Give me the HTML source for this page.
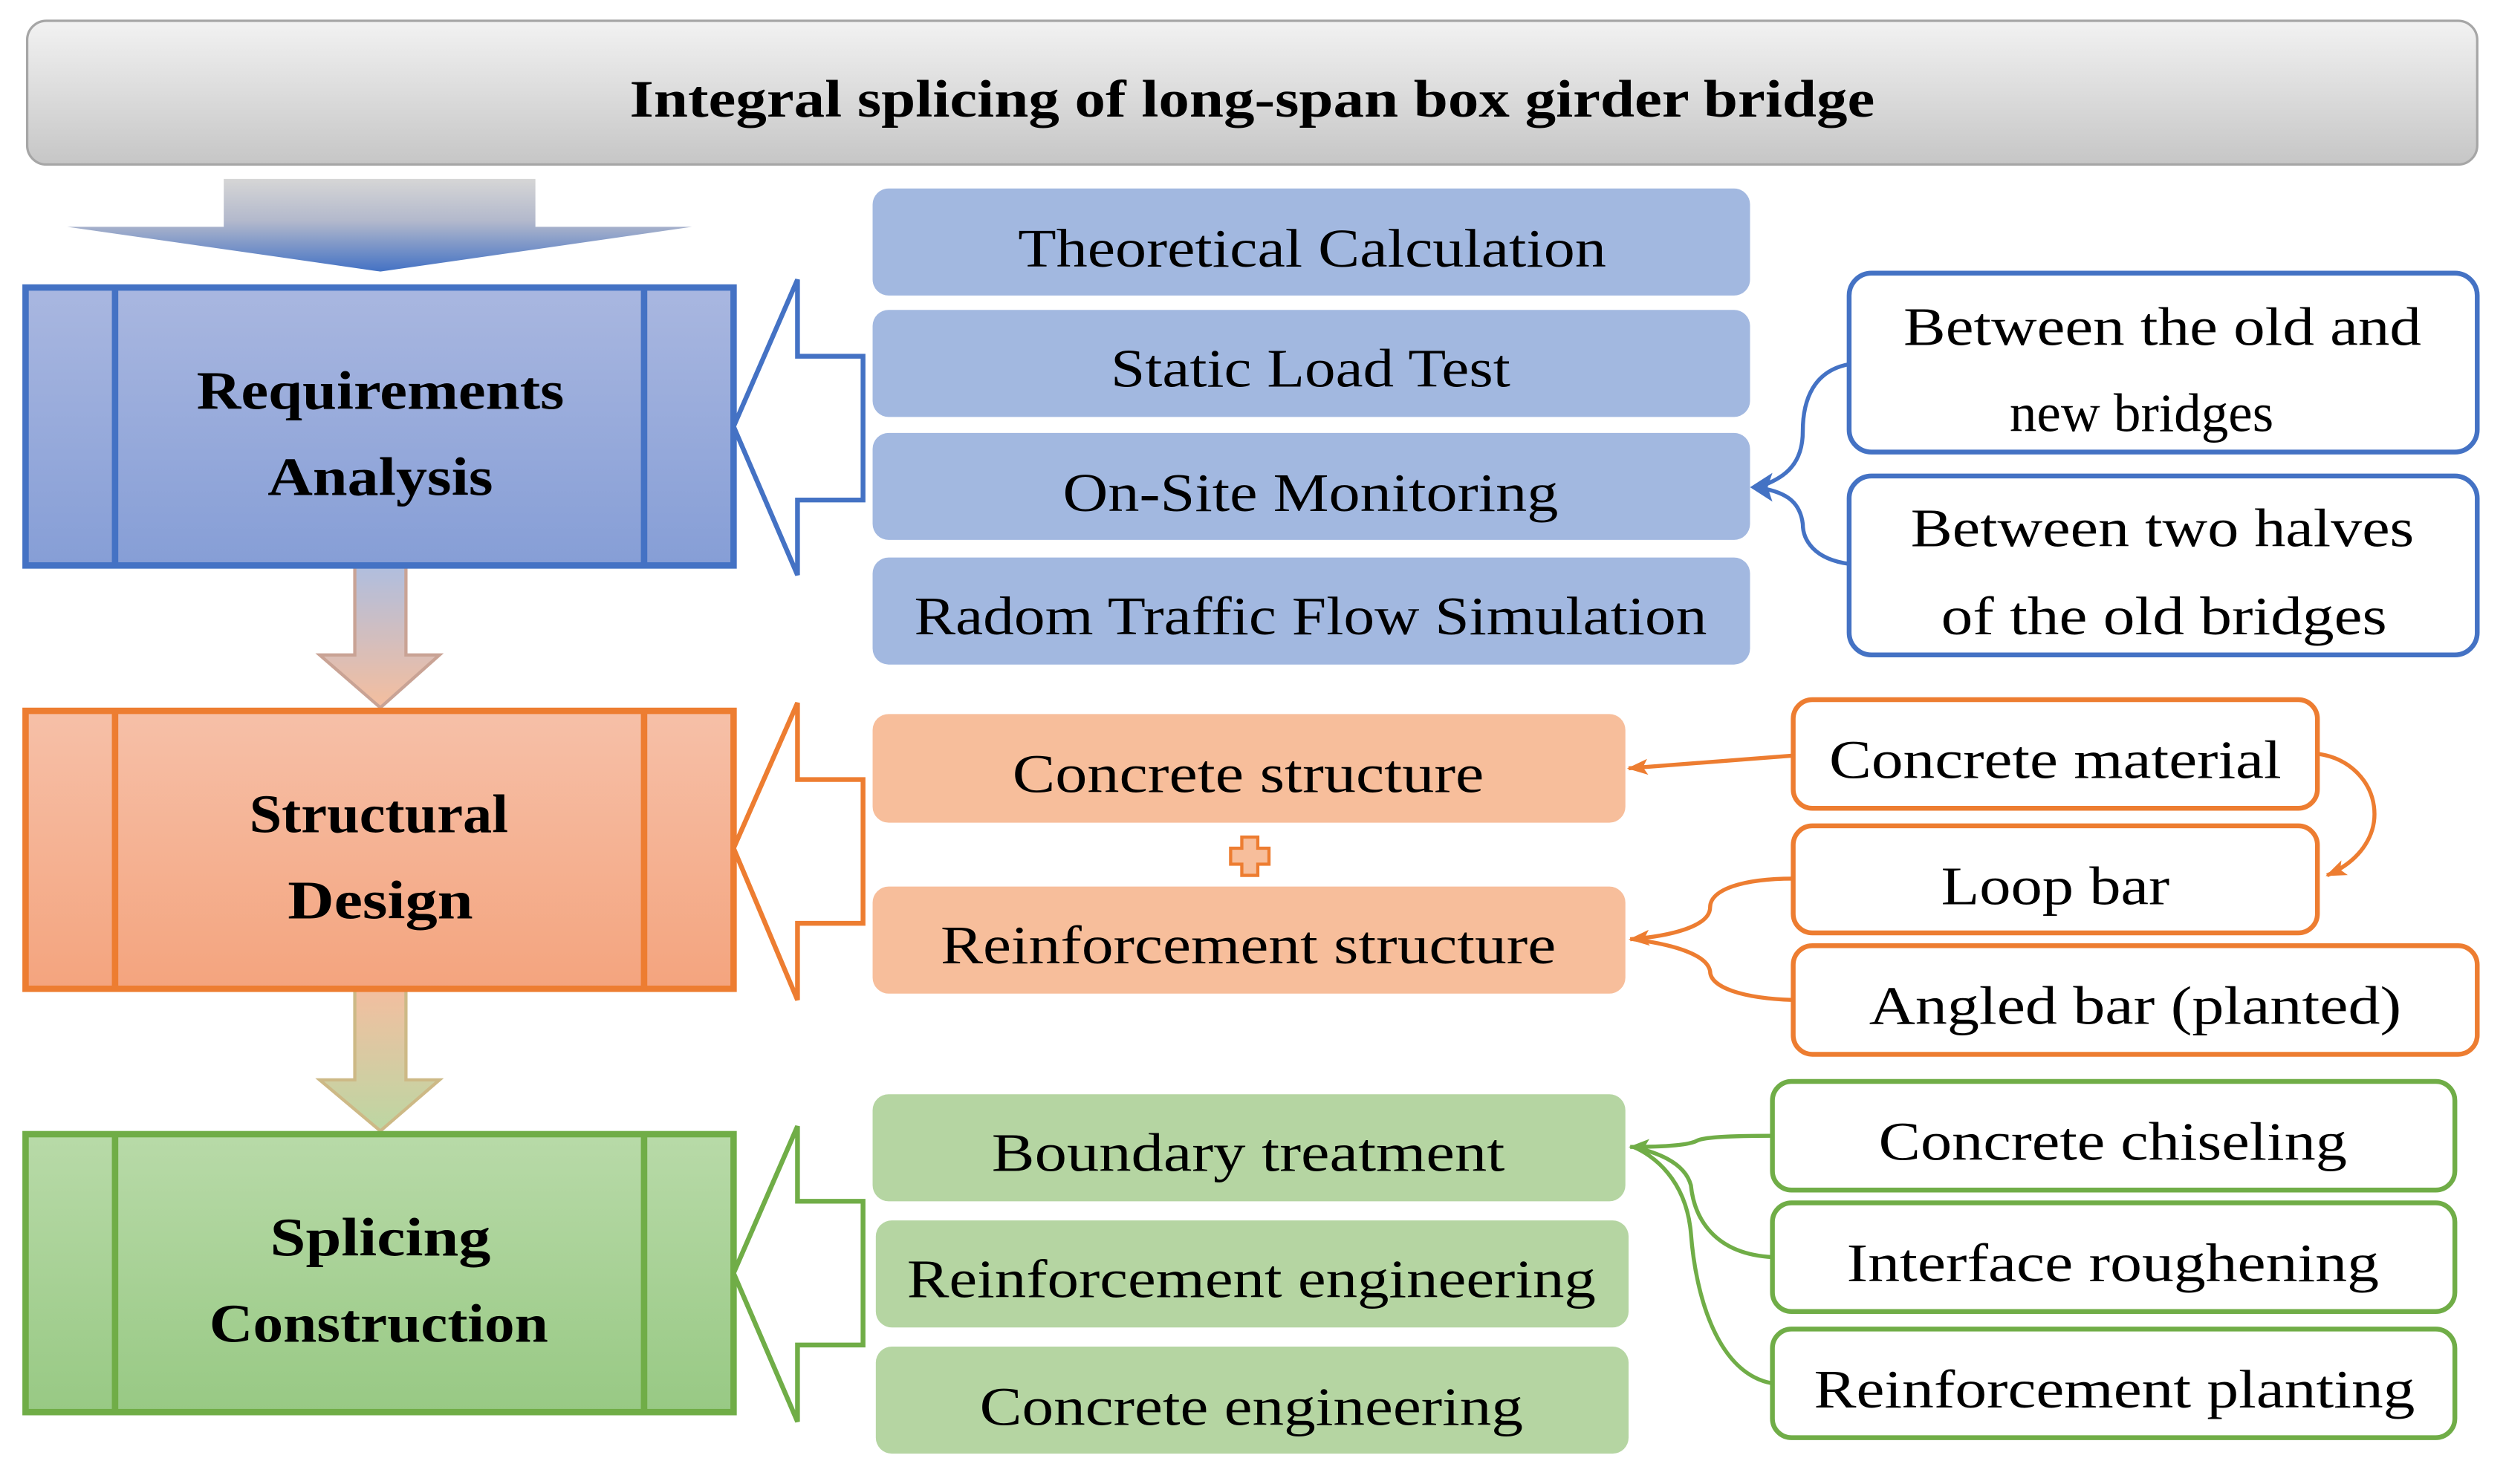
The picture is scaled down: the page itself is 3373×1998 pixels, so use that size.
<!DOCTYPE html>
<html><head><meta charset="utf-8"><style>html,body{margin:0;padding:0;background:#fff}svg{display:block}</style></head><body>
<svg width="3373" height="1998" viewBox="0 0 1568 929" preserveAspectRatio="none" xmlns="http://www.w3.org/2000/svg" font-family="'Liberation Serif', serif">
<defs>
<linearGradient id="gt" x1="0" y1="0" x2="0" y2="1"><stop offset="0" stop-color="#f2f2f2"/><stop offset="1" stop-color="#c6c6c6"/></linearGradient>
<linearGradient id="ga" x1="0" y1="0" x2="0" y2="1"><stop offset="0" stop-color="#d6d6d6"/><stop offset="0.45" stop-color="#b3b9cc"/><stop offset="1" stop-color="#4472c4"/></linearGradient>
<linearGradient id="gb" x1="0" y1="0" x2="0" y2="1"><stop offset="0" stop-color="#a9b7e0"/><stop offset="1" stop-color="#869ed6"/></linearGradient>
<linearGradient id="go" x1="0" y1="0" x2="0" y2="1"><stop offset="0" stop-color="#f6c0a8"/><stop offset="1" stop-color="#f4a47e"/></linearGradient>
<linearGradient id="gg" x1="0" y1="0" x2="0" y2="1"><stop offset="0" stop-color="#b8daa8"/><stop offset="1" stop-color="#98c984"/></linearGradient>
<linearGradient id="gbo" x1="0" y1="0" x2="0" y2="1"><stop offset="0" stop-color="#a7b7dc"/><stop offset="1" stop-color="#f4b894"/></linearGradient>
<linearGradient id="gog" x1="0" y1="0" x2="0" y2="1"><stop offset="0" stop-color="#f2b896"/><stop offset="1" stop-color="#b5d39a"/></linearGradient>
<marker id="mo" markerWidth="14" markerHeight="12" refX="12" refY="6" orient="auto" markerUnits="userSpaceOnUse"><path d="M0,1 L13,6 L0,11 L3,6 Z" fill="#ed7d31"/></marker>
<marker id="mg" markerWidth="14" markerHeight="12" refX="12" refY="6" orient="auto" markerUnits="userSpaceOnUse"><path d="M0,1 L13,6 L0,11 L3,6 Z" fill="#70ad47"/></marker>
</defs>

<rect x="17" y="13" width="1533" height="90" rx="12" fill="url(#gt)" stroke="#a6a6a6" stroke-width="1.5"/>
<text x="783.5" y="73" text-anchor="middle" font-size="33" font-weight="bold" textLength="779" lengthAdjust="spacingAndGlyphs">Integral splicing of long-span box girder bridge</text>

<path d="M140,112 H335 V142 H433 L238,170 L42,142 H140 Z" fill="url(#ga)"/>

<path d="M222,354 H254 V410 H275 L238,443 L200,410 H222 Z" fill="url(#gbo)" stroke="#c49a8a" stroke-width="2" opacity="0.9"/>
<path d="M222,619 H254 V676 H275 L238,708 L200,676 H222 Z" fill="url(#gog)" stroke="#c8b27a" stroke-width="2" opacity="0.9"/>

<g stroke-width="4">
<rect x="16" y="180" width="443" height="174" fill="url(#gb)" stroke="#4472c4"/>
<line x1="72" y1="180" x2="72" y2="354" stroke="#4472c4"/><line x1="403" y1="180" x2="403" y2="354" stroke="#4472c4"/>
<rect x="16" y="445" width="443" height="174" fill="url(#go)" stroke="#ed7d31"/>
<line x1="72" y1="445" x2="72" y2="619" stroke="#ed7d31"/><line x1="403" y1="445" x2="403" y2="619" stroke="#ed7d31"/>
<rect x="16" y="710" width="443" height="174" fill="url(#gg)" stroke="#70ad47"/>
<line x1="72" y1="710" x2="72" y2="884" stroke="#70ad47"/><line x1="403" y1="710" x2="403" y2="884" stroke="#70ad47"/>
</g>
<g font-size="34" font-weight="bold" text-anchor="middle">
<text x="238" y="256" textLength="230" lengthAdjust="spacingAndGlyphs">Requirements</text>
<text x="238" y="310" textLength="141" lengthAdjust="spacingAndGlyphs">Analysis</text>
<text x="237" y="521" textLength="162" lengthAdjust="spacingAndGlyphs">Structural</text>
<text x="238" y="575" textLength="116" lengthAdjust="spacingAndGlyphs">Design</text>
<text x="238" y="786" textLength="138" lengthAdjust="spacingAndGlyphs">Splicing</text>
<text x="237" y="840" textLength="212" lengthAdjust="spacingAndGlyphs">Construction</text>
</g>

<path d="M499,175 V223 H540 V313 H499 V360 L459,267 Z" fill="#fff" stroke="#4472c4" stroke-width="3"/>
<path d="M499,440 V488 H540 V578 H499 V626 L459,531 Z" fill="#fff" stroke="#ed7d31" stroke-width="3"/>
<path d="M499,705 V752 H540 V842 H499 V890 L459,797 Z" fill="#fff" stroke="#70ad47" stroke-width="3"/>

<g fill="#a2b8e0">
<rect x="546" y="118" width="549" height="67" rx="10"/>
<rect x="546" y="194" width="549" height="67" rx="10"/>
<rect x="546" y="271" width="549" height="67" rx="10"/>
<rect x="546" y="349" width="549" height="67" rx="10"/>
</g>
<g font-size="34" text-anchor="middle">
<text x="821" y="167" textLength="368" lengthAdjust="spacingAndGlyphs">Theoretical Calculation</text>
<text x="820" y="242" textLength="250" lengthAdjust="spacingAndGlyphs">Static Load Test</text>
<text x="820" y="320" textLength="310" lengthAdjust="spacingAndGlyphs">On-Site Monitoring</text>
<text x="820" y="397" textLength="496" lengthAdjust="spacingAndGlyphs">Radom Traffic Flow Simulation</text>
</g>
<g fill="#fff" stroke="#4472c4" stroke-width="3">
<rect x="1157" y="171" width="393" height="112" rx="14"/>
<rect x="1157" y="298" width="393" height="112" rx="14"/>
</g>
<g font-size="34" text-anchor="middle">
<text x="1353" y="216" textLength="324" lengthAdjust="spacingAndGlyphs">Between the old and</text>
<text x="1340" y="270">new bridges</text>
<text x="1353" y="342" textLength="315" lengthAdjust="spacingAndGlyphs">Between two halves</text>
<text x="1354" y="397" textLength="279" lengthAdjust="spacingAndGlyphs">of the old bridges</text>
</g>
<g fill="none" stroke="#4472c4" stroke-width="2.5">
<path d="M1157,228 C1135,232 1128,250 1128,270 C1128,292 1115,300 1100,305"/>
<path d="M1157,353 C1135,350 1128,338 1128,328 C1126,312 1115,308 1100,305"/>
</g>
<path d="M1095,305 L1109,296 L1106,305 L1109,314 Z" fill="#4472c4"/>

<g fill="#f7be9b">
<rect x="546" y="447" width="471" height="68" rx="10"/>
<rect x="546" y="555" width="471" height="67" rx="10"/>
</g>
<path d="M777,524 h10 v7 h7 v10 h-7 v7 h-10 v-7 h-7 v-10 h7 Z" fill="#f7be9b" stroke="#ed7d31" stroke-width="2"/>
<g font-size="34" text-anchor="middle">
<text x="781" y="496" textLength="295" lengthAdjust="spacingAndGlyphs">Concrete structure</text>
<text x="781" y="603" textLength="385" lengthAdjust="spacingAndGlyphs">Reinforcement structure</text>
</g>
<g fill="#fff" stroke="#ed7d31" stroke-width="3">
<rect x="1122" y="438" width="328" height="68" rx="12"/>
<rect x="1122" y="517" width="328" height="67" rx="12"/>
<rect x="1122" y="592" width="428" height="68" rx="12"/>
</g>
<g font-size="34" text-anchor="middle">
<text x="1286" y="487" textLength="283" lengthAdjust="spacingAndGlyphs">Concrete material</text>
<text x="1286" y="566" textLength="143" lengthAdjust="spacingAndGlyphs">Loop bar</text>
<text x="1336" y="641" textLength="333" lengthAdjust="spacingAndGlyphs">Angled bar (planted)</text>
</g>
<g fill="none" stroke="#ed7d31" stroke-width="2.5">
<path d="M1122,473 L1019,481" marker-end="url(#mo)"/>
<path d="M1451,472 C1490,478 1502,528 1456,548" marker-end="url(#mo)"/>
<path d="M1122,550 C1090,550 1070,557 1070,568 C1070,580 1045,586 1020,588" marker-end="url(#mo)"/>
<path d="M1122,626 C1090,625 1070,618 1070,608 C1068,597 1045,591 1022,588"/>
</g>

<g fill="#b5d5a2">
<rect x="546" y="685" width="471" height="67" rx="10"/>
<rect x="548" y="764" width="471" height="67" rx="10"/>
<rect x="548" y="843" width="471" height="67" rx="10"/>
</g>
<g font-size="34" text-anchor="middle">
<text x="781" y="733" textLength="321" lengthAdjust="spacingAndGlyphs">Boundary treatment</text>
<text x="783" y="812" textLength="431" lengthAdjust="spacingAndGlyphs">Reinforcement engineering</text>
<text x="783" y="892" textLength="340" lengthAdjust="spacingAndGlyphs">Concrete engineering</text>
</g>
<g fill="#fff" stroke="#70ad47" stroke-width="3">
<rect x="1109" y="677" width="427" height="68" rx="12"/>
<rect x="1109" y="753" width="427" height="68" rx="12"/>
<rect x="1109" y="832" width="427" height="68" rx="12"/>
</g>
<g font-size="34" text-anchor="middle">
<text x="1322" y="726" textLength="293" lengthAdjust="spacingAndGlyphs">Concrete chiseling</text>
<text x="1322" y="802" textLength="333" lengthAdjust="spacingAndGlyphs">Interface roughening</text>
<text x="1323" y="881" textLength="376" lengthAdjust="spacingAndGlyphs">Reinforcement planting</text>
</g>
<g fill="none" stroke="#70ad47" stroke-width="2.5">
<path d="M1109,711 C1080,711 1066,712 1062,714 C1057,717 1040,718 1020,718" marker-end="url(#mg)"/>
<path d="M1109,787 C1072,785 1060,762 1058,742 C1054,727 1035,721 1022,718"/>
<path d="M1109,866 C1075,860 1061,812 1058,772 C1055,738 1034,723 1022,718"/>
</g>
</svg>
</body></html>
